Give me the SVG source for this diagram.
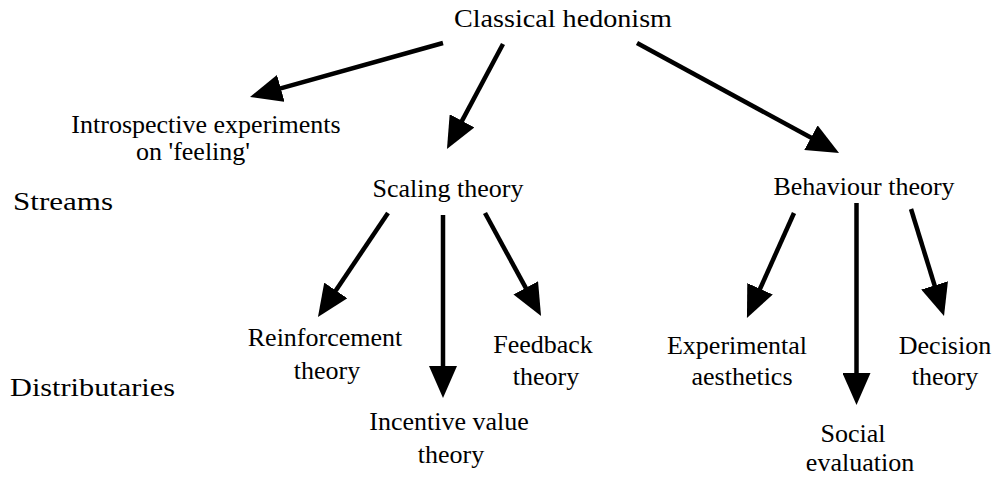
<svg xmlns="http://www.w3.org/2000/svg" width="995" height="477" viewBox="0 0 995 477">
<style>
text{font-family:"Times New Roman","Liberation Serif","Noto Serif",Times,serif;font-size:26px;fill:#000}
.c{text-anchor:middle}
.a{stroke:#000;stroke-width:4.5;fill:none;marker-end:url(#ah)}
</style>
<defs>
<marker id="ah" viewBox="0 0 32 28" refX="16" refY="14" markerWidth="32" markerHeight="28" orient="auto" markerUnits="userSpaceOnUse">
<path d="M0,0 L32,14 L0,28 z" fill="#000"/>
</marker>
</defs>
<rect width="995" height="477" fill="#fff"/>
<g id="labels">
<text x="13" y="210" textLength="100" lengthAdjust="spacingAndGlyphs">Streams</text>
<text x="10" y="396" textLength="165" lengthAdjust="spacingAndGlyphs">Distributaries</text>
</g>
<g id="classical-hedonism"><text class="c" x="563" y="27" textLength="218" lengthAdjust="spacingAndGlyphs">Classical hedonism</text></g>
<g id="introspective"><text class="c" x="206" y="133">Introspective experiments</text><text class="c" x="193" y="160">on 'feeling'</text></g>
<g id="scaling-theory"><text class="c" x="448" y="197">Scaling theory</text></g>
<g id="behaviour-theory"><text class="c" x="864" y="195">Behaviour theory</text></g>
<g id="reinforcement"><text class="c" x="325" y="346">Reinforcement</text><text class="c" x="327" y="379">theory</text></g>
<g id="incentive"><text class="c" x="449" y="430">Incentive value</text><text class="c" x="451" y="463">theory</text></g>
<g id="feedback"><text class="c" x="543" y="353">Feedback</text><text class="c" x="546" y="385">theory</text></g>
<g id="experimental"><text class="c" x="737" y="354">Experimental</text><text class="c" x="742" y="385">aesthetics</text></g>
<g id="social"><text class="c" x="853" y="442">Social</text><text class="c" x="860" y="471">evaluation</text></g>
<g id="decision"><text class="c" x="945" y="354">Decision</text><text class="c" x="945" y="385">theory</text></g>
<g id="connectors">
<line class="a" x1="443" y1="43" x2="265.4" y2="92.7"/>
<line class="a" x1="503" y1="44" x2="454.5" y2="134.9"/>
<line class="a" x1="637" y1="43" x2="825" y2="145.3"/>
<line class="a" x1="388" y1="213" x2="326.9" y2="303.7"/>
<line class="a" x1="443" y1="215" x2="443" y2="382"/>
<line class="a" x1="485" y1="213" x2="533.4" y2="301.9"/>
<line class="a" x1="794" y1="213" x2="753.5" y2="303.4"/>
<line class="a" x1="856.5" y1="203" x2="856.5" y2="389"/>
<line class="a" x1="911" y1="209" x2="939.3" y2="300.7"/>
</g>
</svg>
